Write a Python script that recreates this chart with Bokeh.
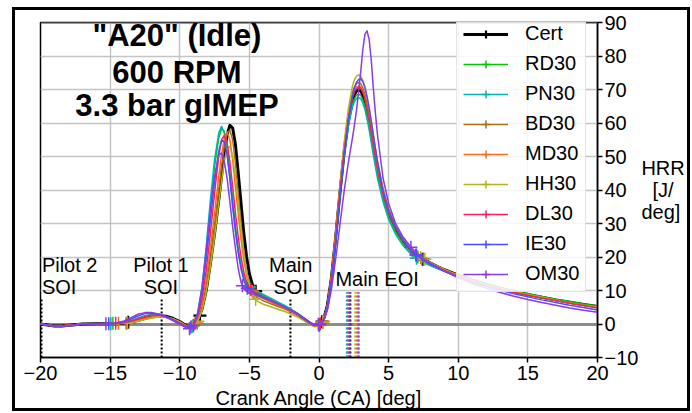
from bokeh.plotting import figure
from bokeh.models import (Range1d, FixedTicker, Legend, LegendItem, Label,
                          Span, InlineStyleSheet)
from bokeh.embed import file_html
from bokeh.resources import INLINE

FONT = "Liberation Sans"

# ---------------- data ----------------
ca = [-20, -19.5, -19, -18.5, -18, -17.5, -17, -16, -15, -14.5,
      -14, -13.5, -13, -12.5, -12, -11.5, -11, -10.5, -10, -9.6,
      -9.3, -9.0, -8.7, -8.4, -8.1, -7.8, -7.5, -7.2, -7.0, -6.8,
      -6.6, -6.4, -6.2, -6.0, -5.8, -5.6, -5.4, -5.2, -5.0, -4.8,
      -4.5, -4.0, -3.5, -3.0, -2.5, -2.0, -1.5, -1.0, -0.6, -0.3,
      0.0, 0.3, 0.6, 0.9, 1.2, 1.5, 1.8, 2.1, 2.4, 2.55,
      2.7, 2.85, 3.0, 3.15, 3.3, 3.45, 3.6, 3.75, 3.9, 4.05,
      4.2, 4.6, 5.0, 5.5, 6.0, 6.5,
      7.0, 7.5, 8.0, 9.0, 10, 11, 12, 13, 14, 15,
      16, 17, 18, 19, 20]

hrr_cert = [0.0, -0.3, -0.6, -0.6, -0.4, -0.2, 0.0, 0.1, 0.1, 0.1,
            0.3, 0.6, 1.1, 1.7, 2.2, 2.5, 2.3, 1.7, 0.7, -0.3,
            -0.8, -0.6, 1.2, 4.5, 10.0, 18.0, 27.0, 37.0, 44.0, 51.0,
            56.5, 59.3, 58.5, 53.5, 45.0, 36.0, 27.0, 20.0, 15.0, 12.0,
            9.5, 8.0, 7.0, 6.0, 5.0, 4.0, 2.8, 1.3, 0.1, -0.4,
            -0.2, 1.0, 5.5, 14.0, 26.0, 39.0, 51.0, 60.5, 66.5, 68.5,
            69.6, 69.9, 69.5, 68.3, 66.5, 63.8, 60.5, 56.8, 53.0, 49.4,
            46.0, 38.5, 33.0, 28.5, 25.0, 22.5,
            20.5, 19.2, 18.2, 16.2, 14.6, 13.1, 11.8, 10.7, 9.7, 8.8,
            8.0, 7.2, 6.5, 5.8, 5.2]
hrr_rd30 = [0.0, -0.3, -0.6, -0.6, -0.4, -0.2, 0.0, 0.1, 0.1, 0.2,
            0.4, 0.9, 1.6, 2.3, 2.7, 2.6, 2.1, 1.3, 0.3, -0.6,
            -1.2, -0.3, 3.0, 10.0, 21.0, 35.0, 47.0, 55.5, 58.3, 57.5,
            53.0, 45.5, 37.0, 29.0, 22.5, 17.5, 14.0, 12.0, 10.8, 10.2,
            9.6, 8.4, 7.4, 6.3, 5.3, 4.2, 2.9, 1.3, 0.0, -0.5,
            -0.4, 0.8, 5.2, 13.5, 25.5, 38.5, 50.5, 59.5, 65.5, 67.3,
            68.3, 68.6, 68.2, 66.9, 65.0, 62.2, 59.0, 55.3, 51.5, 48.0,
            44.5, 37.5, 32.0, 27.5, 24.2, 21.8,
            20.0, 18.8, 17.8, 16.0, 14.5, 13.1, 11.9, 10.8, 9.8, 9.0,
            8.2, 7.4, 6.7, 6.0, 5.4]
hrr_pn30 = [0.0, -0.3, -0.6, -0.7, -0.5, -0.2, 0.0, 0.1, 0.1, 0.2,
            0.5, 1.0, 1.8, 2.5, 2.9, 2.7, 2.1, 1.2, 0.2, -0.7,
            -1.3, -0.3, 3.5, 11.0, 23.0, 37.0, 49.0, 57.0, 59.0, 57.0,
            51.5, 43.5, 35.0, 27.5, 21.5, 17.0, 14.0, 12.2, 11.2, 10.6,
            10.0, 8.8, 7.8, 6.7, 5.6, 4.4, 3.0, 1.3, 0.0, -0.5,
            -0.3, 0.9, 5.3, 13.5, 25.5, 38.0, 50.0, 59.0, 64.8, 66.4,
            67.3, 67.6, 67.2, 65.9, 64.0, 61.2, 58.0, 54.3, 50.5, 47.0,
            43.5, 36.5, 31.2, 26.8, 23.6, 21.3,
            19.6, 18.4, 17.4, 15.7, 14.2, 12.8, 11.6, 10.5, 9.5, 8.6,
            7.8, 7.0, 6.3, 5.6, 5.0]
hrr_bd30 = [0.0, -0.3, -0.6, -0.6, -0.4, -0.2, 0.0, 0.1, 0.1, 0.1,
            0.2, 0.4, 0.9, 1.4, 1.9, 2.2, 2.1, 1.6, 0.7, -0.3,
            -0.9, -0.6, 1.0, 4.5, 10.5, 19.0, 29.0, 40.0, 47.0, 53.0,
            57.0, 57.8, 55.0, 48.0, 39.0, 30.0, 22.0, 16.0, 12.0, 9.8,
            8.0, 6.9, 6.1, 5.3, 4.5, 3.6, 2.5, 1.1, 0.0, -0.5,
            -0.4, 0.8, 5.5, 14.5, 27.0, 40.5, 53.0, 62.5, 69.0, 70.8,
            71.8, 72.1, 71.7, 70.4, 68.5, 65.7, 62.5, 58.8, 55.0, 51.2,
            47.5, 39.5, 33.8, 29.0, 25.4, 22.8,
            20.8, 19.3, 18.2, 16.2, 14.5, 13.0, 11.7, 10.6, 9.6, 8.7,
            7.9, 7.1, 6.3, 5.6, 5.0]
hrr_md30 = [0.0, -0.3, -0.6, -0.6, -0.4, -0.2, 0.0, 0.1, 0.1, 0.1,
            0.3, 0.6, 1.1, 1.7, 2.2, 2.4, 2.2, 1.6, 0.6, -0.4,
            -1.0, -0.5, 1.8, 6.0, 13.0, 22.5, 33.0, 44.0, 50.5, 55.5,
            57.3, 55.0, 49.0, 41.0, 33.0, 25.5, 19.0, 14.5, 11.5, 9.8,
            8.6, 7.5, 6.6, 5.7, 4.8, 3.8, 2.6, 1.2, 0.0, -0.5,
            -0.4, 0.8, 5.4, 14.0, 26.5, 40.0, 52.0, 61.5, 68.0, 69.8,
            70.8, 71.1, 70.8, 69.4, 67.5, 64.7, 61.5, 57.8, 54.0, 50.4,
            46.8, 39.0, 33.4, 28.8, 25.2, 22.6,
            20.7, 19.2, 18.1, 16.1, 14.4, 12.9, 11.7, 10.6, 9.6, 8.7,
            7.9, 7.1, 6.3, 5.6, 5.0]
hrr_hh30 = [0.0, -0.3, -0.5, -0.6, -0.4, -0.2, 0.0, 0.1, 0.1, 0.1,
            0.2, 0.4, 0.8, 1.3, 1.8, 2.1, 2.0, 1.5, 0.6, -0.4,
            -1.0, -0.7, 0.8, 4.0, 9.5, 17.0, 26.0, 36.0, 42.5, 48.5,
            52.5, 53.0, 50.0, 44.0, 36.0, 28.0, 21.0, 15.5, 11.5, 9.0,
            7.0, 5.9, 5.2, 4.5, 3.8, 3.0, 2.0, 0.8, -0.3, -0.8,
            -0.7, 0.5, 5.0, 14.0, 27.0, 41.0, 54.0, 64.0, 71.0, 73.0,
            74.0, 74.4, 74.0, 72.7, 70.8, 67.9, 64.5, 60.6, 56.5, 52.6,
            48.8, 40.5, 34.5, 29.6, 25.8, 23.0,
            21.0, 19.5, 18.3, 16.3, 14.6, 13.1, 11.8, 10.7, 9.7, 8.8,
            8.0, 7.1, 6.3, 5.6, 5.0]
hrr_dl30 = [0.0, -0.3, -0.6, -0.6, -0.4, -0.2, 0.0, 0.1, 0.1, 0.2,
            0.4, 0.8, 1.5, 2.2, 2.6, 2.6, 2.1, 1.3, 0.3, -0.6,
            -1.1, -0.4, 2.2, 7.5, 16.0, 27.0, 39.0, 50.0, 55.0, 56.3,
            54.0, 48.5, 41.0, 33.0, 26.0, 20.0, 15.5, 12.5, 10.8, 9.9,
            9.2, 8.1, 7.2, 6.1, 5.1, 4.0, 2.8, 1.2, 0.0, -0.5,
            -0.3, 0.9, 5.4, 14.0, 26.0, 39.5, 51.5, 61.0, 67.5, 69.3,
            70.3, 70.6, 70.4, 69.1, 67.2, 64.4, 61.2, 57.5, 53.8, 50.1,
            46.5, 38.8, 33.2, 28.6, 25.1, 22.5,
            20.6, 19.1, 18.0, 16.0, 14.3, 12.8, 11.6, 10.5, 9.5, 8.6,
            7.8, 7.0, 6.2, 5.5, 4.8]
hrr_ie30 = [0.0, -0.3, -0.6, -0.7, -0.5, -0.3, -0.1, 0.1, 0.1, 0.3,
            0.7, 1.5, 2.4, 3.1, 3.3, 3.0, 2.3, 1.3, 0.1, -0.8,
            -1.3, -0.3, 3.0, 9.5, 19.5, 31.0, 42.5, 51.5, 54.8, 54.5,
            50.5, 43.5, 35.5, 28.0, 21.5, 16.5, 13.0, 11.0, 10.0, 9.5,
            9.0, 8.0, 7.1, 6.1, 5.1, 4.0, 2.8, 1.3, 0.1, -0.4,
            -0.3, 0.8, 5.0, 13.0, 24.5, 37.5, 50.0, 60.5, 68.0, 70.5,
            72.2, 73.0, 73.2, 72.3, 70.5, 67.8, 64.5, 60.6, 56.5, 52.5,
            48.5, 40.0, 34.0, 29.0, 25.3, 22.6,
            20.6, 19.0, 17.8, 15.7, 14.0, 12.5, 11.2, 10.1, 9.0, 8.1,
            7.2, 6.4, 5.6, 4.9, 4.2]
hrr_om30 = [0.0, -0.3, -0.7, -0.8, -0.6, -0.3, -0.1, 0.1, 0.2, 0.4,
            0.9, 1.9, 2.9, 3.4, 3.4, 2.9, 2.1, 1.0, -0.1, -0.9,
            -1.4, -0.4, 3.5, 11.0, 22.0, 34.0, 44.0, 50.5, 51.0, 48.5,
            43.5, 36.5, 29.0, 22.5, 16.5, 12.5, 10.5, 9.7, 9.3, 9.0,
            8.6, 7.8, 7.0, 6.1, 5.1, 4.1, 2.9, 1.4, 0.3, -0.2,
            0.0, 0.7, 4.0, 10.5, 19.5, 29.5, 39.5, 48.0, 55.5, 59.5,
            64.0, 69.5, 75.5, 82.0, 86.5, 87.5, 85.0, 79.0, 70.5, 63.0,
            56.5, 43.5, 36.0, 30.0, 26.2, 23.5,
            21.3, 19.6, 18.2, 15.8, 13.8, 12.1, 10.7, 9.4, 8.3, 7.3,
            6.4, 5.6, 4.8, 4.1, 3.5]

# event markers (+) on each curve
mk_x_cert = [-13.7, -8.55, -4.55, 0.22, 7.45]
mk_y_cert = [0.5, 2.5, 9.8, 0.7, 19.3]
mk_x_rd30 = [-14.8, -9.05, -5.0, 0.0, 7.1]
mk_y_rd30 = [0.2, -0.6, 10.8, -0.4, 20.0]
mk_x_pn30 = [-14.95, -9.1, -5.0, 0.05, 7.0]
mk_y_pn30 = [0.1, -0.7, 11.2, -0.2, 19.6]
mk_x_bd30 = [-13.85, -8.75, -4.7, 0.25, 7.5]
mk_y_bd30 = [0.2, 0.2, 9.2, 0.6, 19.3]
mk_x_md30 = [-14.4, -8.9, -4.8, 0.3, 7.3]
mk_y_md30 = [0.2, 0.2, 9.8, 0.8, 19.8]
mk_x_hh30 = [-13.75, -8.7, -4.55, 0.3, 7.6]
mk_y_hh30 = [0.3, 0.8, 7.4, 0.5, 19.3]
mk_x_dl30 = [-14.6, -9.0, -4.9, 0.1, 6.95]
mk_y_dl30 = [0.2, -0.4, 10.3, 0.1, 20.6]
mk_x_ie30 = [-15.1, -9.2, -5.15, 0.0, 7.0]
mk_y_ie30 = [0.1, -0.9, 10.7, -0.3, 20.6]
mk_x_om30 = [-15.3, -9.3, -5.5, -0.05, 6.6]
mk_y_om30 = [0.1, -1.4, 11.4, -0.1, 22.9]

names = ["Cert", "RD30", "PN30", "BD30", "MD30", "HH30", "DL30", "IE30", "OM30"]
colors = ["#000000", "#00c800", "#00b2b2", "#a8700f", "#ff6a1a",
          "#b3b31a", "#ff1f5a", "#4d4dff", "#8a3be6"]
eoi_x = [2.25, 2.05, 2.0, 2.8, 2.7, 2.6, 2.15, 2.2, 2.85]   # main EOI per fuel
soi_x = [-19.93, -11.3, -2.05]                               # Pilot2, Pilot1, Main SOI

x_ticks = [-20, -15, -10, -5, 0, 5, 10, 15, 20]
x_tick_labels = ["\u221220", "\u221215", "\u221210", "\u22125", "0", "5", "10", "15", "20"]
y_ticks = [-10, 0, 10, 20, 30, 40, 50, 60, 70, 80, 90]
y_tick_labels = ["\u221210", "0", "10", "20", "30", "40", "50", "60", "70", "80", "90"]

curves = [hrr_cert, hrr_rd30, hrr_pn30, hrr_bd30, hrr_md30, hrr_hh30, hrr_dl30, hrr_ie30, hrr_om30]
mks_x = [mk_x_cert, mk_x_rd30, mk_x_pn30, mk_x_bd30, mk_x_md30, mk_x_hh30, mk_x_dl30, mk_x_ie30, mk_x_om30]
mks_y = [mk_y_cert, mk_y_rd30, mk_y_pn30, mk_y_bd30, mk_y_md30, mk_y_hh30, mk_y_dl30, mk_y_ie30, mk_y_om30]

# ---------------- figure ----------------
p = figure(width=692, height=413, output_backend="svg", toolbar_location=None,
           x_range=Range1d(-20, 20), y_range=Range1d(-10, 90),
           y_axis_location="right",
           min_border_left=40, min_border_right=95, min_border_top=22, min_border_bottom=56)
p.background_fill_color = "white"
p.border_fill_color = "white"
p.outline_line_color = "black"
p.outline_line_width = 1.5

for ax, ticks, labels in ((p.xaxis, x_ticks, x_tick_labels), (p.yaxis, y_ticks, y_tick_labels)):
    ax.ticker = FixedTicker(ticks=ticks)
    ax.major_label_overrides = {t: l for t, l in zip(ticks, labels)}
    ax.major_label_text_font = FONT
    ax.major_label_text_font_size = "20px"
    ax.major_label_text_color = "black"
    ax.axis_line_color = "black"
    ax.axis_line_width = 1.5
    ax.major_tick_line_color = "black"
    ax.major_tick_line_width = 1.5
    ax.major_tick_out = 5
    ax.major_tick_in = 0
    ax.minor_tick_line_color = None
    ax.major_label_standoff = 2
p.xaxis.major_label_standoff = 3

p.xaxis.axis_label = "Crank Angle (CA) [deg]"
p.xaxis.axis_label_text_font = FONT
p.xaxis.axis_label_text_font_size = "20px"
p.xaxis.axis_label_text_font_style = "normal"
p.xaxis.axis_label_text_color = "black"
p.xaxis.axis_label_standoff = 4

p.xgrid.ticker = FixedTicker(ticks=x_ticks)
p.ygrid.ticker = FixedTicker(ticks=y_ticks)
for g in (p.xgrid, p.ygrid):
    g.grid_line_color = "#c4c4c4"
    g.grid_line_width = 1.5

# zero line
p.hspan(y=[0], line_color="#8c8c8c", line_width=3)

# SOI / EOI dotted markers
p.segment(x0=soi_x, y0=[-10] * len(soi_x), x1=soi_x, y1=[7.5] * len(soi_x),
          line_color="black", line_width=2, line_dash="2 2")
p.segment(x0=eoi_x, y0=[-10] * len(eoi_x), x1=eoi_x, y1=[9.5] * len(eoi_x),
          line_color=colors, line_width=2, line_dash="2 2")

items = []
for name, col, yv, mx, my in zip(names, colors, curves, mks_x, mks_y):
    lw = 3 if name == "Cert" else 1.5
    lr = p.line(ca, yv, line_color=col, line_width=lw, line_join="round")
    sr = p.scatter(mx, my, marker="cross", size=13, line_color=col,
                   line_width=2.2 if name == "Cert" else 1.5)
    items.append(LegendItem(label=name, renderers=[lr, sr]))

# top spine in gray (added before the legend so the legend covers it)
p.add_layout(Span(location=90, dimension="width", line_color="#7a7a7a", line_width=2))

# legend: location is its bottom-left corner, measured from the frame's bottom-left
legend = Legend(items=items, location=(416, 65))
legend.label_text_font = FONT
legend.label_text_font_size = "20px"
legend.label_text_color = "black"
legend.border_line_color = "#cccccc"
legend.border_line_width = 1
legend.background_fill_color = "white"
legend.background_fill_alpha = 0.85
legend.padding = 6
legend.spacing = 7
legend.margin = 0
legend.glyph_width = 45
legend.glyph_height = 20
legend.label_standoff = 17
p.add_layout(legend)


def add_text(x, y, text, size="20px", align="center", bold=False):
    p.add_layout(Label(x=x, y=y, text=text, text_font=FONT, text_font_size=size,
                       text_align=align, text_baseline="middle", text_color="black",
                       text_font_style="bold" if bold else "normal"))


# title block
add_text(-10.2, 86.0, '"A20" (Idle)', size="31px", bold=True)
add_text(-10.2, 75.2, "600 RPM", size="31px", bold=True)
add_text(-10.2, 65.2, "3.3 bar gIMEP", size="31px", bold=True)

# event annotations
add_text(-19.9, 17.5, "Pilot 2", align="left")
add_text(-19.9, 11.0, "SOI", align="left")
add_text(-11.35, 17.5, "Pilot 1")
add_text(-11.35, 11.0, "SOI")
add_text(-2.03, 17.5, "Main")
add_text(-2.03, 11.0, "SOI")
add_text(4.17, 13.5, "Main EOI")

# y-axis title: horizontal, three lines, to the right of the tick labels
# (non-breaking spaces centre the shorter line under "HRR")
yax = p.yaxis[0]
yax.axis_label = "HRR\n\u00a0\u00a0[J/\ndeg]"
yax.axis_label_text_font = FONT
yax.axis_label_text_font_size = "20px"
yax.axis_label_text_font_style = "normal"
yax.axis_label_text_color = "black"
yax.axis_label_standoff = 0
yax.axis_label_text_line_height = 1.0
if "axis_label_orientation" in yax.properties():
    yax.axis_label_orientation = "horizontal"

# outer black frame around the whole picture (CSS overlay)
p.stylesheets = [InlineStyleSheet(css="""
:host { position: relative; }
:host::after {
  content: ""; position: absolute; left: 12px; top: 7px;
  width: 678px; height: 404px; border: 3px solid black;
  box-sizing: border-box; pointer-events: none; z-index: 100;
}
""")]

open("out.html", "w").write(file_html(p, INLINE))
